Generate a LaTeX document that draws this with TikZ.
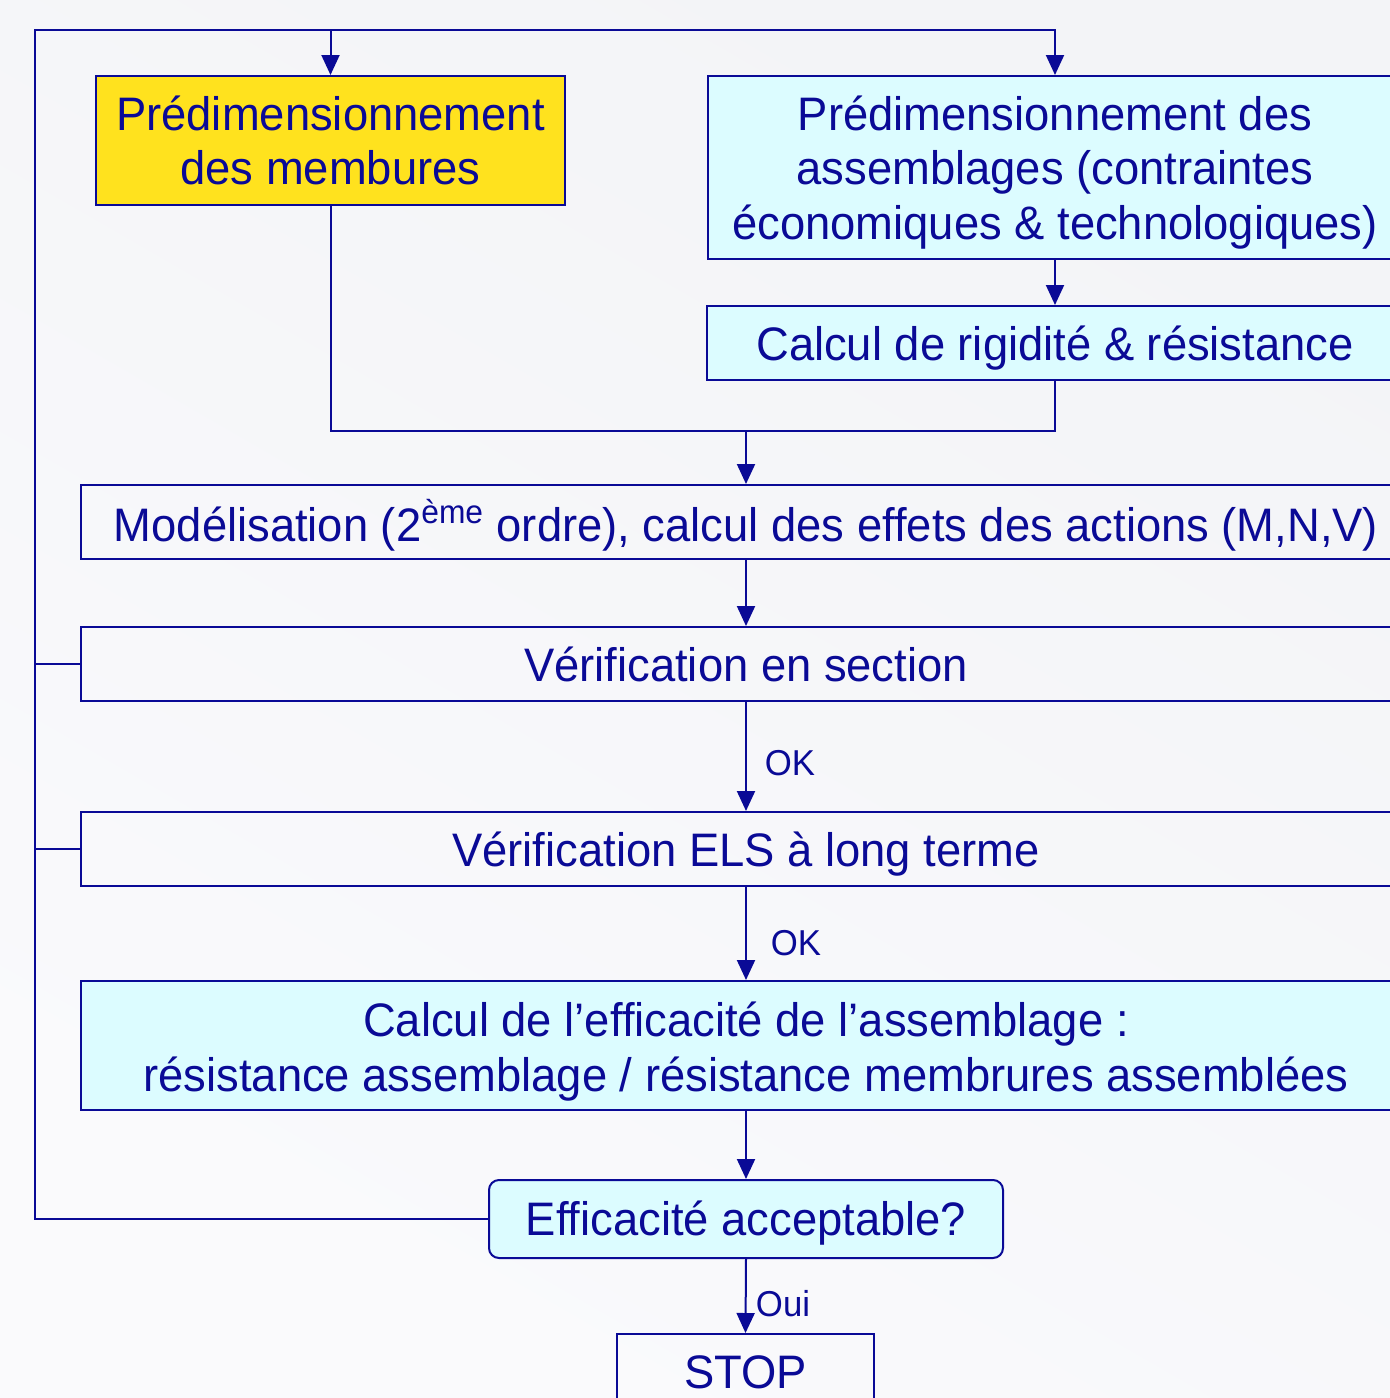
\documentclass[tikz,border=0pt]{standalone}
\usepackage{fontspec}
\setmainfont{Liberation Sans}[FakeStretch=0.965]
\usetikzlibrary{arrows.meta}
\definecolor{navy}{RGB}{10,10,150}
\definecolor{ylw}{RGB}{255,226,30}
\definecolor{cyn}{RGB}{220,252,255}
\definecolor{bgA}{RGB}{243,244,247}
\definecolor{bgB}{RGB}{250,250,252}
\tikzset{
  box/.style={draw=navy, line width=1pt, inner sep=0pt},
  txt/.style={text=navy, inner sep=0pt, align=center,
    font=\fontsize{23.5}{27.25}\selectfont},
  lbl/.style={text=navy, inner sep=0pt, font=\fontsize{18}{20}\selectfont},
  link/.style={draw=navy, line width=1pt},
  conn/.style={link, -{Triangle[length=10pt,width=9pt]}}
}
\begin{document}
\begin{tikzpicture}[x=0.5pt,y=-0.5pt]
\useasboundingbox (0,0) rectangle (1390,1398);
\shade[top color=bgA, bottom color=bgB, shading angle=-30] (0,0) rectangle (1390,1398);
\clip (0,0) rectangle (1390,1398);
% boxes
\node[box, fill=ylw, minimum width=234.5pt, minimum height=64.5pt] (pA) at (330.5,140.5) {};
\node[box, fill=cyn, minimum width=347pt, minimum height=91.5pt] (pB) at (1055,167.5) {};
\node[box, fill=cyn, minimum width=348pt, minimum height=37pt] (pC) at (1055,343) {};
\node[box, minimum width=665pt, minimum height=37pt] (mD) at (746,522) {};
\node[box, minimum width=665pt, minimum height=37pt] (vE) at (746,664) {};
\node[box, minimum width=665pt, minimum height=37pt] (vF) at (746,849) {};
\node[box, fill=cyn, minimum width=665pt, minimum height=64.5pt] (cG) at (746,1045.5) {};
\node[box, fill=cyn, rounded corners=5pt, minimum width=257pt, minimum height=39pt] (eH) at (746,1219) {};
\node[box, minimum width=128.5pt, minimum height=38pt] (stop) at (745.5,1372) {};
% texts
\node[txt] (pA-t) at (pA.center) {Prédimensionnement\\des membures};
\node[txt, yshift=-2.5pt] (pB-t) at (pB.center) {Prédimensionnement des\\assemblages (contraintes\\économiques \& technologiques)};
\node[txt, yshift=-2.5pt] (pC-t) at (pC.center) {Calcul de rigidité \& résistance};
\node[txt, yshift=-1.5pt] (mD-t) at (mD.center) {Modélisation (2\textsuperscript{ème} ordre), calcul des effets des actions (M,N,V)};
\node[txt] (vE-t) at (vE.center) {Vérification en section};
\node[txt, yshift=-2.5pt] (vF-t) at (vF.center) {Vérification ELS à long terme};
\node[txt, yshift=-3pt] (cG-t) at (cG.center) {Calcul de l’efficacité de l’assemblage :\\résistance assemblage / résistance membrures assemblées};
\node[txt, yshift=-2pt] (eH-t) at (eH.center) {Efficacité acceptable?};
\node[txt] (stop-t) at (stop.center) {STOP};
% coordinates
\coordinate (loopT) at (35,30);
\coordinate (join) at (746,431);
% connectors
\draw[conn] (eH.west) -| (loopT) -| (pB.north);
\draw[conn] (loopT -| pA.north) -- (pA.north);
\draw[link] (vE.west) -- (vE.west -| loopT);
\draw[link] (vF.west) -- (vF.west -| loopT);
\draw[link] (pA.south) |- (join);
\draw[link] (pC.south) |- (join);
\draw[conn] (join) -- (mD.north);
\draw[conn] (pB.south) -- (pC.north);
\draw[conn] (mD.south) -- (vE.north);
\draw[conn] (vE.south) -- (vF.north);
\draw[conn] (vF.south) -- (cG.north);
\draw[conn] (cG.south) -- (eH.north);
\draw[conn] (eH.south) -- (stop.north);
% labels
\node[lbl] (ok1) at (790,763) {OK};
\node[lbl] (ok2) at (796,943) {OK};
\node[lbl] (oui) at (783,1304) {Oui};
\end{tikzpicture}
\end{document}
